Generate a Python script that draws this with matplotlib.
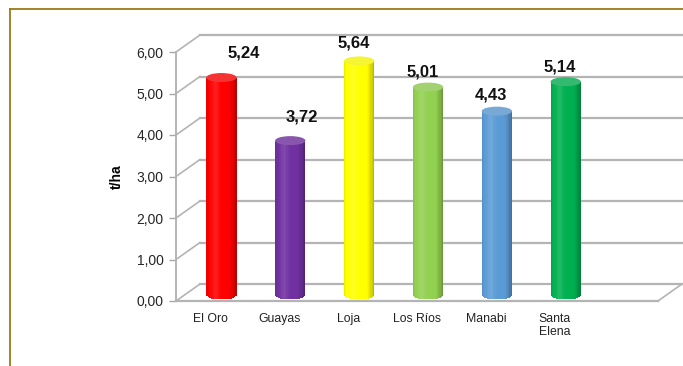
import numpy as np
import matplotlib
matplotlib.use("Agg")
import matplotlib.pyplot as plt
import matplotlib.transforms as mtransforms
from matplotlib.patches import Ellipse
from matplotlib.lines import Line2D
from matplotlib.colors import to_rgb
from matplotlib.ticker import FuncFormatter, MultipleLocator

# ---- data ----
categories = ["El Oro", "Guayas", "Loja", "Los Ríos", "Manabi", "Santa\nElena"]
values = [5.24, 3.72, 5.64, 5.01, 4.43, 5.14]
bar_colors = ["#FF0000", "#7030A0", "#FFFF00", "#92D050", "#5B9BD5", "#00B050"]
y_label = "t/ha"

# ---- layout (pixel offsets) ----
label_offsets = [(33, 31), (23, 30), (6, 24), (6, 21), (5, 22), (5, 21)]
DPI = 100
W, H = 683, 366
DEPTH = (24, 17)      # back wall offset in pixels
BAR_SHIFT = (11, 6)   # bars sit mid depth

plt.rcParams['font.family'] = ['Liberation Sans', 'DejaVu Sans']

fig = plt.figure(figsize=(W / DPI, H / DPI), dpi=DPI)
left, right, bottom, top = 176, 658, 301, 52
ax = fig.add_axes([left / W, 1 - bottom / H, (right - left) / W, (bottom - top) / H])
n_slots = 7
ax.set_xlim(-0.5, n_slots - 0.5)
ax.set_ylim(0, 6)
for s in ax.spines.values():
    s.set_visible(False)
ax.set_facecolor('none')
ax.set_xticks([])
ax.yaxis.set_major_locator(MultipleLocator(1))
ax.yaxis.set_major_formatter(FuncFormatter(lambda v, p: f"{v:.2f}".replace('.', ',')))
ax.tick_params(axis='y', length=5, width=1, color='#A8A8A8', pad=4, labelsize=10,
               labelcolor='#262626')

grid_c = '#B4B4B4'
back = ax.transData + mtransforms.ScaledTranslation(DEPTH[0] / DPI, DEPTH[1] / DPI, fig.dpi_scale_trans)
mid = ax.transData + mtransforms.ScaledTranslation(BAR_SHIFT[0] / DPI, BAR_SHIFT[1] / DPI, fig.dpi_scale_trans)

x0, x1 = -0.5, n_slots - 0.5
# back wall gridlines and side-wall diagonals
for v in range(0, 7):
    ax.plot([x0, x1], [v, v], color=grid_c, lw=1.6, transform=back, clip_on=False, zorder=1)
    p0 = ax.transData.transform((x0, v))
    p1 = back.transform((x0, v))
    ax.add_line(Line2D([p0[0], p1[0]], [p0[1], p1[1]], transform=None, color=grid_c, lw=1.2,
                       clip_on=False, zorder=1))
# floor front edge and right diagonal
ax.plot([x0, x1], [0, 0], color=grid_c, lw=1.6, clip_on=False, zorder=1)
p0 = ax.transData.transform((x1, 0))
p1 = back.transform((x1, 0))
ax.add_line(Line2D([p0[0], p1[0]], [p0[1], p1[1]], transform=None, color=grid_c, lw=1.2,
                   clip_on=False, zorder=1))
# front vertical axis
ax.plot([x0, x0], [0, 6], color=grid_c, lw=1.4, clip_on=False, zorder=2)

# ---- cylinder bars ----
bw = 0.44
px_per_unit = (bottom - top) / 6.0
cap_h = 9 / px_per_unit
nstrip = 24
edges = np.linspace(-0.5, 0.5, nstrip + 1)
centers_s = (edges[:-1] + edges[1:]) / 2


def shade_col(base, u):
    shade = 1.0 - 0.30 * max(0.0, (u - 0.72) / 0.28) ** 1.5 - 0.08 * max(0.0, (0.1 - u) / 0.1)
    hl = 0.12 * np.exp(-((u - 0.3) / 0.12) ** 2)
    return np.clip(base * shade + (1 - base * shade) * hl, 0, 1)


for i, (v, c) in enumerate(zip(values, bar_colors)):
    base = np.array(to_rgb(c))
    for k, t in enumerate(centers_s):
        u = t + 0.5
        col = shade_col(base, u)
        ax.bar(i + t * bw, v, width=bw / nstrip * 1.05, color=col, linewidth=0,
               transform=mid, zorder=3)
        # rounded bottom
        ell_h = cap_h * 0.5 * np.sqrt(max(0.0, 1 - (2 * t) ** 2))
        ax.bar(i + t * bw, ell_h, bottom=-ell_h, width=bw / nstrip * 1.05, color=col,
               linewidth=0, transform=mid, zorder=3)
    cap_col = np.clip(base * 0.95 + (1 - base * 0.95) * 0.2, 0, 1)
    cap = Ellipse((i, v), bw, cap_h, facecolor=cap_col, edgecolor='none',
                  transform=mid, zorder=4)
    ax.add_patch(cap)
    ax.annotate(f"{v:.2f}".replace('.', ','), xy=(i, v), xytext=label_offsets[i],
                textcoords='offset pixels', ha='center', va='center',
                fontsize=12, fontweight='bold', color='#111111', zorder=6,
                annotation_clip=False)

# category labels
for i, cat in enumerate(categories):
    ax.text(i, 0, cat, transform=ax.transData + mtransforms.ScaledTranslation(0, -12 / DPI, fig.dpi_scale_trans),
            ha='center', va='top', fontsize=8.8, color='#222222', linespacing=1.15)

ax.set_ylabel(y_label, fontsize=10, fontweight='bold', labelpad=9)

# frame
frame_c = '#9C7A14'
fig.add_artist(Line2D([10 / W, 1], [1 - 9 / H, 1 - 9 / H], color=frame_c, lw=1.3))
fig.add_artist(Line2D([10 / W, 10 / W], [0, 1 - 9 / H], color=frame_c, lw=1.3))

fig.savefig("out.png", dpi=DPI)
